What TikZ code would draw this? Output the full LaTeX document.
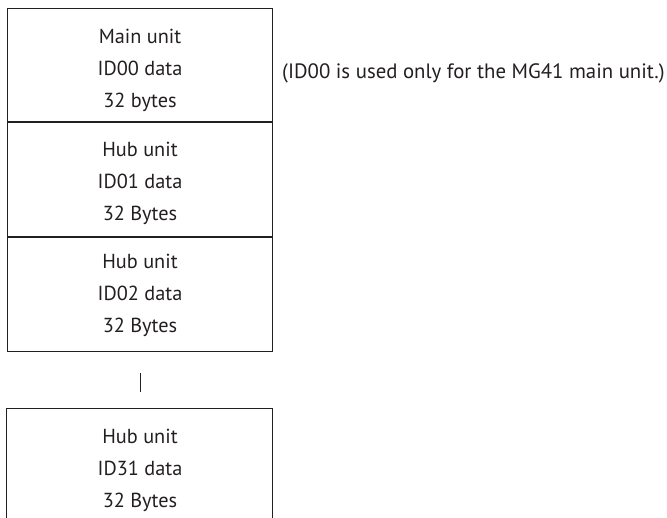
\documentclass[tikz,border=0pt]{standalone}
\usepackage{fontspec}
\setmainfont{PT Sans}
\definecolor{ink}{HTML}{231F20}
\begin{document}
\begin{tikzpicture}[x=1pt,y=1pt,
  cell/.style={draw=ink,line width=1pt,minimum width=265pt,inner sep=0pt},
  txt/.style={inner sep=0pt,align=center,text=ink,font=\fontsize{20.3}{32}\selectfont},
  plain/.style={inner sep=0pt,text=ink,font=\fontsize{20.8}{24}\selectfont,anchor=west}]
\useasboundingbox (0,0) rectangle (667,-517);
\node[cell,minimum height=113pt] (b1) at (139.5,-64.5) {};
\node[cell,minimum height=114pt,anchor=north] (b2) at (b1.south) {};
\node[cell,minimum height=114pt,anchor=north] (b3) at (b2.south) {};
\node[cell,draw=none,minimum height=126pt,anchor=north] (b4) at (139.5,-408) {};
\draw[ink,line width=1pt] (b4.south west) -- (b4.north west) -- (b4.north east) -- (b4.south east);
\node[txt] (t1) at (140,-70) {Main unit\\ID00 data\\32 bytes};
\node[txt] (t2) at (140,-183) {Hub unit\\ID01 data\\32 Bytes};
\node[txt] (t3) at (140,-295) {Hub unit\\ID02 data\\32 Bytes};
\node[txt] (t4) at (140,-470) {Hub unit\\ID31 data\\32 Bytes};
\coordinate (d1) at (140,-373);
\coordinate (d2) at (140,-392);
\draw[ink,line width=1pt] (d1) -- (d2);
\node[plain] (note) at (282,-73) {(ID00 is used only for the MG41 main unit.)};
\end{tikzpicture}
\end{document}
